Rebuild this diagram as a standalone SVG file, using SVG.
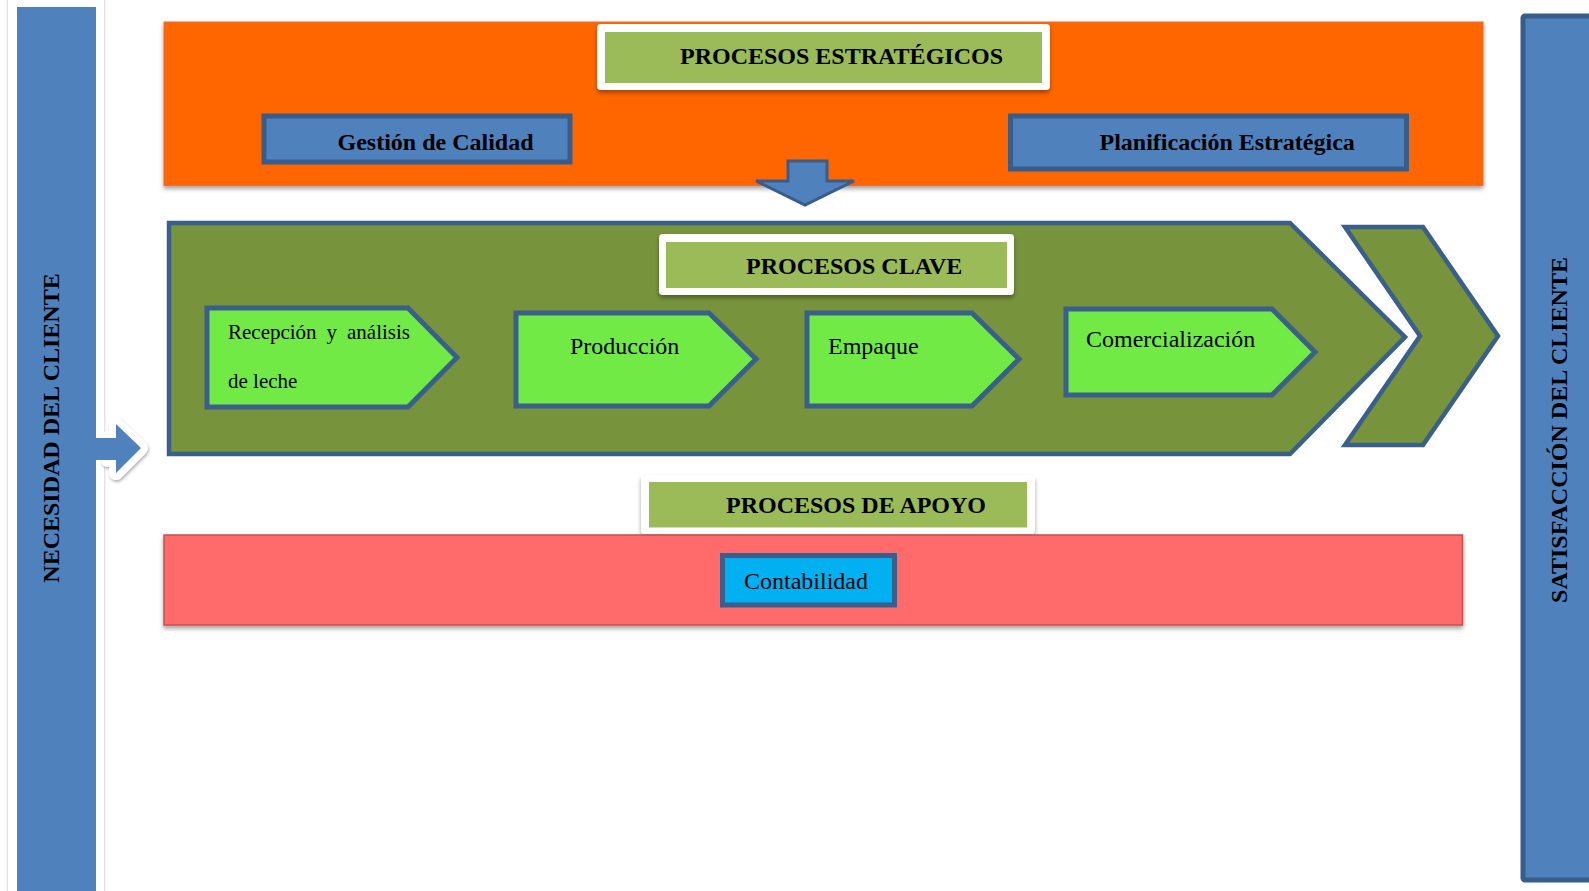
<svg xmlns="http://www.w3.org/2000/svg" width="1589" height="891" viewBox="0 0 1589 891">
<defs>
<style>
.t{font-family:"Liberation Serif","Times New Roman",serif;fill:#000}
.b{font-weight:bold;font-size:24px}
.r{font-size:24px}
.blue{fill:#4F81BD;stroke:#385D8A;stroke-width:5}
.proc{fill:#72EA46;stroke:#3A5F8B;stroke-width:5;stroke-linejoin:miter}
.olive{fill:#77933C;stroke:#3A5F8B;stroke-width:4.5}
.lblW{fill:#fff}
.lblG{fill:#9BBB59}
</style>
<filter id="sh" x="-5%" y="-10%" width="110%" height="130%">
<feDropShadow dx="0" dy="3" stdDeviation="2" flood-color="#000" flood-opacity="0.35"/>
</filter>
<filter id="shs" x="-20%" y="-5%" width="140%" height="110%">
<feDropShadow dx="0" dy="0" stdDeviation="1.5" flood-color="#000" flood-opacity="0.3"/>
</filter>
<filter id="sha" x="-30%" y="-30%" width="160%" height="160%">
<feDropShadow dx="1" dy="2" stdDeviation="1.5" flood-color="#000" flood-opacity="0.3"/>
</filter>
</defs>
<rect width="1589" height="891" fill="#fff"/>

<g id="necesidad">
<rect x="8" y="-5" width="96" height="905" fill="#fff" filter="url(#shs)"/>
<rect x="17" y="7" width="79" height="890" fill="#4F81BD"/>
<text class="t b" text-anchor="middle" transform="translate(59,428) rotate(-90)">NECESIDAD DEL CLIENTE</text>
</g>

<g id="satisfaccion">
<rect x="1523" y="16" width="80" height="864" rx="2" class="blue"/>
<text class="t b" text-anchor="middle" transform="translate(1567,430) rotate(-90)">SATISFACCIÓN DEL CLIENTE</text>
</g>

<g id="estrategicos">
<rect x="164" y="22" width="1319" height="163.5" fill="#FF6600" stroke="#EE6A3A" stroke-width="1" filter="url(#sh)"/>
<rect x="597" y="24" width="453" height="66" rx="4" class="lblW" filter="url(#sh)"/>
<rect x="605" y="32" width="437" height="51" class="lblG"/>
<text class="t b" x="680" y="64">PROCESOS ESTRATÉGICOS</text>
</g>

<g id="gestion-calidad">
<rect x="264" y="116" width="306" height="46" class="blue"/>
<text class="t b" x="337.5" y="150">Gestión de Calidad</text>
</g>

<g id="planificacion">
<rect x="1010.5" y="116" width="396" height="53" class="blue"/>
<text class="t b" x="1099.5" y="150">Planificación Estratégica</text>
</g>

<g id="clave">
<polygon class="olive" points="169,223 1290,223 1405,337 1290,454 169,454"/>
<polygon class="olive" points="1345,227 1423,227 1498,336 1423,445 1345,445 1420,336"/>
<rect x="659" y="234" width="355" height="61" rx="4" class="lblW" filter="url(#sh)"/>
<rect x="666" y="242" width="341" height="46" class="lblG"/>
<text class="t b" x="746" y="274">PROCESOS CLAVE</text>
</g>

<g id="recepcion">
<polygon class="proc" points="207,308 408,308 457,357.5 408,407 207,407"/>
<text class="t" font-size="21" word-spacing="4.7" x="228" y="339">Recepción y análisis</text>
<text class="t" font-size="21" x="228" y="388">de leche</text>
</g>

<g id="produccion">
<polygon class="proc" points="516,313 709,313 756,359 709,406 516,406"/>
<text class="t r" x="570" y="354">Producción</text>
</g>

<g id="empaque">
<polygon class="proc" points="807,313 972,313 1019,359 972,406 807,406"/>
<text class="t r" x="828" y="354">Empaque</text>
</g>

<g id="comercializacion">
<polygon class="proc" points="1066,309 1272,309 1315,352 1272,395 1066,395"/>
<text class="t r" x="1086" y="347">Comercialización</text>
</g>

<g id="apoyo">
<rect x="641" y="475" width="394" height="59" rx="4" class="lblW" filter="url(#sh)"/>
<rect x="649" y="482" width="378" height="45.5" class="lblG"/>
<text class="t b" x="726" y="513">PROCESOS DE APOYO</text>
<rect x="164" y="535" width="1298.5" height="90" fill="#FF6B6B" stroke="#C9504D" stroke-width="1.5" filter="url(#sh)"/>
</g>

<g id="contabilidad">
<rect x="722.5" y="555.5" width="172" height="49.5" fill="#00B0F0" stroke="#3A5F8B" stroke-width="5"/>
<text class="t r" x="744" y="589">Contabilidad</text>
</g>

<g id="connectors">
<polygon points="788,161 827,161 827,181 854,181 805,205 756,181 788,181" fill="#4F81BD" stroke="#385D8A" stroke-width="3" stroke-linejoin="miter"/>
<polygon points="108,438 116,438 116,424 141,448 116,473 116,460 108,460" fill="#fff" stroke="#fff" stroke-width="14" stroke-linejoin="round" filter="url(#sha)"/>
<polygon points="94,438 116,438 116,424 141,448 116,473 116,460 94,460" fill="#4F81BD"/>
</g>
</svg>
